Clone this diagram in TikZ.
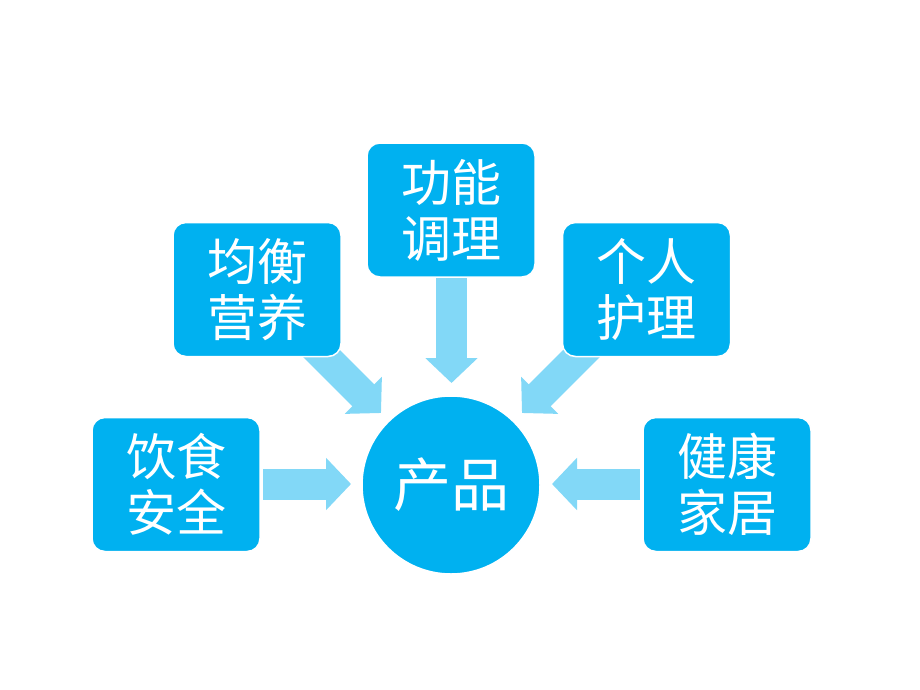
\documentclass[tikz,border=0pt]{standalone}
\usepackage{fontspec}
\newfontfamily\cjk{Noto Sans CJK SC}
\usetikzlibrary{arrows.meta}
\definecolor{boxblue}{HTML}{00B1F0}
\definecolor{arrowblue}{HTML}{82D8F7}
\tikzset{
  topic/.style={rectangle, rounded corners=13pt, fill=boxblue, draw=white, line width=1.5pt,
    minimum width=168pt, minimum height=134pt, inner sep=0pt, text=white,
    font=\cjk\fontsize{50}{56}\selectfont, align=center},
  hub/.style={circle, fill=boxblue, draw=white, line width=1.5pt, minimum size=178pt,
    inner sep=0pt, text=white, font=\cjk\fontsize{58}{64}\selectfont},
  blockarrow/.style={draw=arrowblue, line width=31pt, line cap=butt,
    -{Triangle[width=51pt,length=25pt]}, arrowblue}
}
\begin{document}
\begin{tikzpicture}[x=1pt,y=-1pt]
\useasboundingbox (0,0) rectangle (920,690);
\fill[white] (0,0) rectangle (920,690);
% arrow coordinates
\coordinate (sL) at (263,484);
\coordinate (eL) at (351,484);
\coordinate (sR) at (640,484);
\coordinate (eR) at (552,484);
\coordinate (sT) at (451.5,272);
\coordinate (eT) at (451.5,383);
\coordinate (sUL) at (300,332);
\coordinate (eUL) at (381,413);
\coordinate (sUR) at (603,332);
\coordinate (eUR) at (522,413);
\draw[blockarrow] (sL) -- (eL);
\draw[blockarrow] (sR) -- (eR);
\draw[blockarrow] (sT) -- (eT);
\draw[blockarrow] (sUL) -- (eUL);
\draw[blockarrow] (sUR) -- (eUR);
% nodes
\node[topic] (food) at (176,484.5) {饮食\\安全};
\node[topic] (nutri) at (257,289.5) {均衡\\营养};
\node[topic] (func) at (451,210) {功能\\调理};
\node[topic] (care) at (646.5,289.5) {个人\\护理};
\node[topic] (home) at (727,484.5) {健康\\家居};
\node[hub] (prod) at (451,485) {产品};
\end{tikzpicture}
\end{document}
